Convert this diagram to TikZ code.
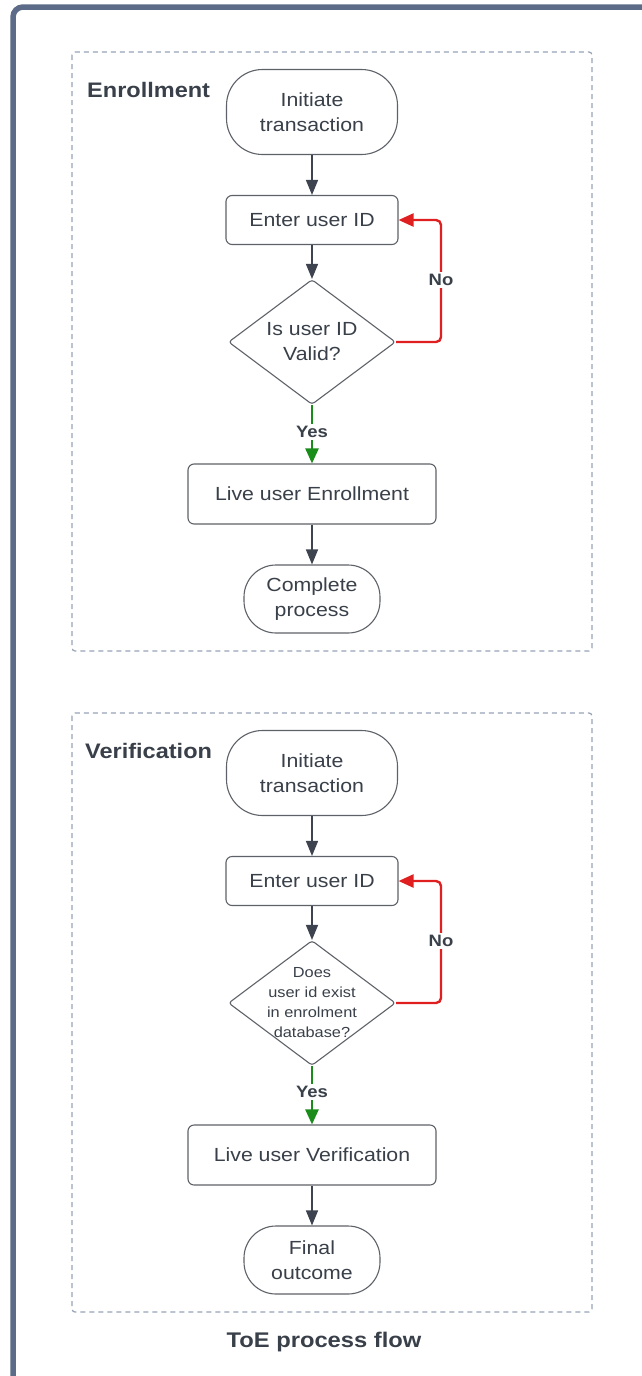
\documentclass[tikz,border=0pt]{standalone}
\usepackage{fontspec}
\setmainfont{Liberation Sans}[FakeStretch=1.12]
\usetikzlibrary{arrows.meta,shapes.geometric}
\definecolor{frameblue}{HTML}{5B6B88}
\definecolor{dashgray}{HTML}{97A3B8}
\definecolor{ink}{HTML}{394049}
\definecolor{edgegray}{HTML}{5E6268}
\definecolor{arrowdark}{HTML}{3D4450}
\definecolor{noRed}{HTML}{E02020}
\definecolor{yesGreen}{HTML}{1A8C1A}
\tikzset{
  base/.style={draw=edgegray, line width=1.1pt, fill=white, text=ink, align=center,
    font=\fontsize{19}{25}\selectfont, inner sep=0pt},
  term/.style={base, rounded corners=36pt},
  procbox/.style={base, rounded corners=6pt, minimum height=49pt},
  decision/.style={base, diamond, aspect=1.336, inner sep=-15pt, rounded corners=3pt,
    minimum width=167pt, minimum height=125pt},
  flow/.style={draw=arrowdark, line width=1.4pt, -{Triangle[length=15pt,width=12pt]}},
  noflow/.style={draw=noRed, line width=2.4pt, rounded corners=5pt,
    -{Triangle[length=15pt,width=13pt]}},
  yesflow/.style={draw=yesGreen, line width=2.4pt, -{Triangle[length=15pt,width=13pt]}},
  answer/.style={fill=white, text=ink, font=\fontsize{16.5}{18}\selectfont\bfseries, inner sep=2pt},
  section/.style={text=ink, font=\fontsize{21}{24}\selectfont\bfseries, inner sep=0pt},
  group/.style={draw=dashgray, line width=1.2pt, dash pattern=on 5pt off 4pt, rounded corners=3pt},
}
\begin{document}
\begin{tikzpicture}[x=1pt,y=-1pt]
\useasboundingbox (0,0) rectangle (642,1376);
\fill[white] (0,0) rectangle (642,1376);
\begin{scope}
  \clip (0,0) rectangle (642,1376);
  \draw[frameblue, line width=5.5pt, rounded corners=10pt] (13,7) rectangle (680,1400);
\end{scope}

% Enrollment group
\draw[group] (72,52) rectangle (592,651);
\node[section, anchor=west] (enrTitle) at (87,90) {Enrollment};
\node[term, minimum width=171pt, minimum height=85pt] (eStart) at (312,112) {Initiate\\transaction};
\node[procbox, minimum width=172pt] (eId) at (312,220) {Enter user ID};
\node[decision] (eCheck) at (312,342) {Is user ID\\Valid?};
\node[procbox, minimum width=248pt, minimum height=60pt] (eLive) at (312,494) {Live user Enrollment};
\node[term, minimum width=136pt, minimum height=68pt, rounded corners=32pt] (eEnd) at (312,599) {Complete\\process};
\coordinate (eLoop) at (441,342);
\draw[flow] (eStart) -- (eId);
\draw[flow] (eId) -- (eCheck);
\draw[noflow] (eCheck.east) -- (eLoop) |- (eId.east);
\node[answer] (eNo) at (441,280) {No};
\draw[yesflow] (eCheck.south) -- (eLive.north);
\node[answer] (eYes) at (312,432) {Yes};
\draw[flow] (eLive) -- (eEnd);

% Verification group
\draw[group] (72,713) rectangle (592,1312);
\node[section, anchor=west] (verTitle) at (85,751) {Verification};
\node[term, minimum width=171pt, minimum height=85pt] (vStart) at (312,773) {Initiate\\transaction};
\node[procbox, minimum width=172pt] (vId) at (312,881) {Enter user ID};
\node[decision, font=\fontsize{14.6}{20}\selectfont] (vCheck) at (312,1003) {Does\\user id exist\\in enrolment\\database?};
\node[procbox, minimum width=248pt, minimum height=60pt] (vLive) at (312,1155) {Live user Verification};
\node[term, minimum width=136pt, minimum height=68pt, rounded corners=32pt] (vEnd) at (312,1260) {Final\\outcome};
\coordinate (vLoop) at (441,1003);
\draw[flow] (vStart) -- (vId);
\draw[flow] (vId) -- (vCheck);
\draw[noflow] (vCheck.east) -- (vLoop) |- (vId.east);
\node[answer] (vNo) at (441,941) {No};
\draw[yesflow] (vCheck.south) -- (vLive.north);
\node[answer] (vYes) at (312,1092) {Yes};
\draw[flow] (vLive) -- (vEnd);

\node[text=ink, font=\fontsize{21.2}{24}\selectfont\bfseries] (caption) at (324,1342) {ToE process flow};
\end{tikzpicture}
\end{document}
